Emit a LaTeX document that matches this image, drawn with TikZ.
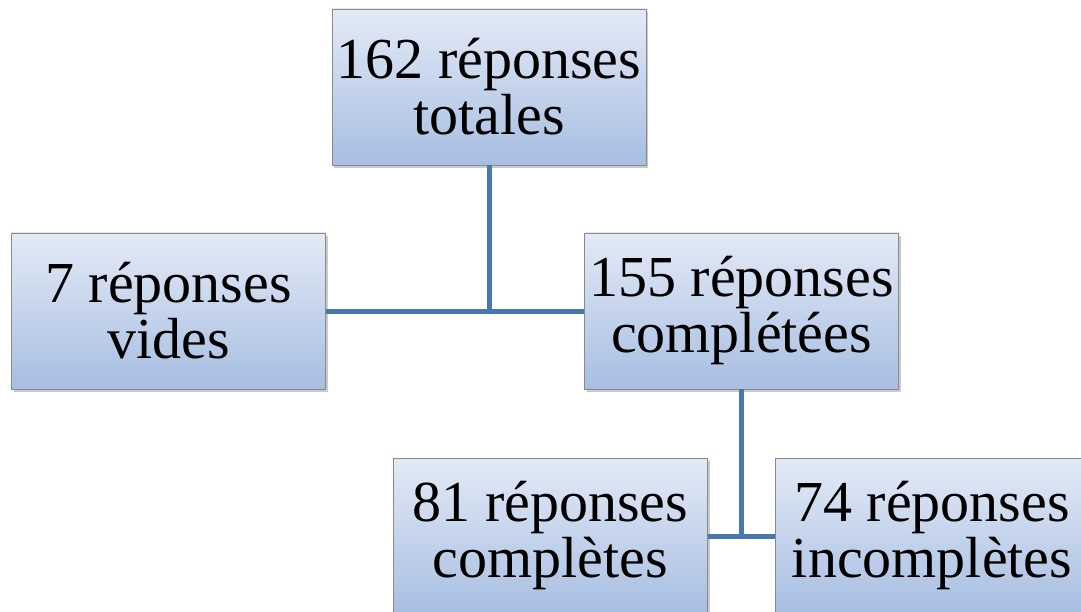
\documentclass[tikz,border=0pt]{standalone}
\usepackage{fontspec}
\setmainfont{Liberation Serif}
\usetikzlibrary{shadows}
\definecolor{boxtop}{HTML}{E3EAF6}
\definecolor{boxbot}{HTML}{A7BEE2}
\definecolor{boxline}{HTML}{8A8A8A}
\definecolor{conn}{HTML}{4A78AE}
\tikzset{
  box/.style={draw=boxline, line width=0.8pt, top color=boxtop, bottom color=boxbot,
    minimum width=314pt, minimum height=156pt, inner sep=0pt, align=center,
    font=\fontsize{58}{56}\selectfont,
    drop shadow={shadow xshift=2pt, shadow yshift=-3pt, opacity=0.35, fill=black!60}},
  conline/.style={draw=conn, line width=5pt}
}
\begin{document}
\begin{tikzpicture}[x=1pt,y=-1pt]
\useasboundingbox (0,0) rectangle (1081,612);
\clip (0,0) rectangle (1081,612);
\node[box] (top) at (489,87) {162 réponses\\totales};
\node[box] (left) at (168.5,311) {7 réponses\\vides};
\node[box] (mid) at (741.5,311) {155 réponses\\complétées};
\node[box] (bl) at (550.5,536) {81 réponses\\complètes};
\node[box] (br) at (932,536) {74 réponses\\incomplètes};
\draw[conline] (top.south) -- (top.south |- mid.west);
\draw[conline] (left.east) -- (mid.west);
\draw[conline] (mid.south) -- (mid.south |- bl.east);
\draw[conline] (bl.east) -- (br.west);
\end{tikzpicture}
\end{document}
